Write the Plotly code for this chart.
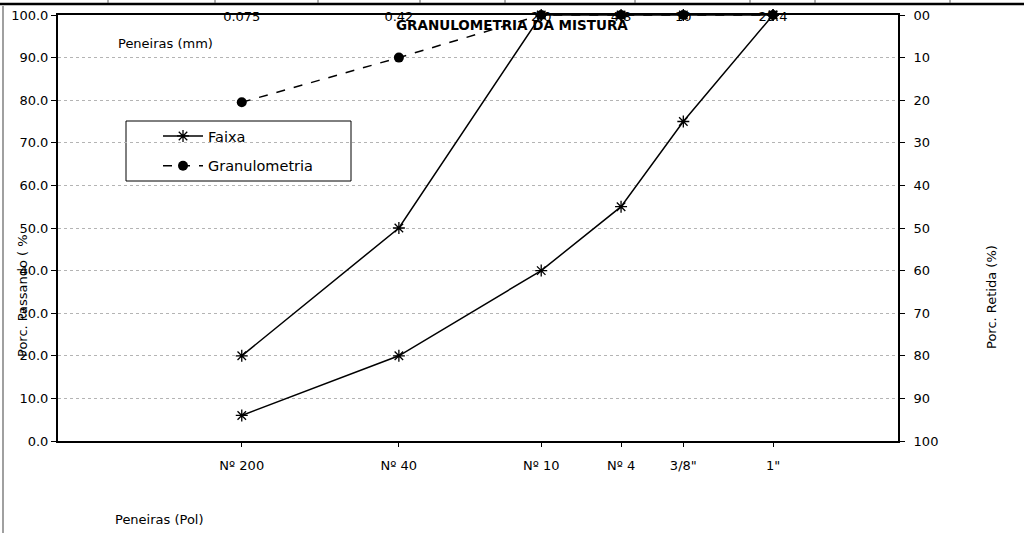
import plotly.graph_objects as go

# Data
sieve_mm = [0.075, 0.42, 2.0, 4.8, 9.5, 25.4]
sieve_pol = ["Nº 200", "Nº 40", "Nº 10", "Nº 4", "3/8\"", "1\""]
sieve_mm_labels = ["0.075", "0.42", "2.0", "4.8", "10", "25.4"]
faixa_sup = [20, 50, 100, 100, 100, 100]
faixa_inf = [6, 20, 40, 55, 75, 100]
granulometria = [79.5, 90, 100, 100, 100, 100]
y_left_ticks = [0, 10, 20, 30, 40, 50, 60, 70, 80, 90, 100]
y_right_labels = ["00", "10", "20", "30", "40", "50", "60", "70", "80", "90", "100"]

FONT = "DejaVu Sans"
FS = 13
W, H = 1024, 533
L, R, T, B = 58, 898, 15, 441

def px(x):
    return (x - L) / (R - L)

def py(y):
    return (B - y) / (B - T)

fig = go.Figure()

fig.add_trace(go.Scatter(
    x=sieve_mm, y=faixa_sup, mode="lines+markers", name="Faixa",
    line=dict(color="black", width=1.5),
    marker=dict(symbol="asterisk-open", size=10, color="black", line=dict(width=1.3, color="black")),
    legendgroup="a", cliponaxis=False,
))
fig.add_trace(go.Scatter(
    x=sieve_mm, y=faixa_inf, mode="lines+markers", name="Faixa", showlegend=False,
    line=dict(color="black", width=1.5),
    marker=dict(symbol="asterisk-open", size=10, color="black", line=dict(width=1.3, color="black")),
    legendgroup="a", cliponaxis=False,
))
fig.add_trace(go.Scatter(
    x=sieve_mm, y=granulometria, mode="lines+markers", name="Granulometria",
    line=dict(color="black", width=1.5, dash="dash"),
    marker=dict(symbol="circle", size=10, color="black"),
    legendgroup="b", cliponaxis=False,
))
# invisible trace to activate the secondary axes
fig.add_trace(go.Scatter(x=sieve_mm, y=[None] * len(sieve_mm), xaxis="x2", yaxis="y2",
                         showlegend=False, hoverinfo="skip", mode="lines"))

fig.update_layout(
    template="none",
    width=W, height=H,
    margin=dict(l=L, r=W - R, t=T, b=H - B, pad=0, autoexpand=False),
    paper_bgcolor="white", plot_bgcolor="white",
    font=dict(family=FONT, size=FS, color="black"),
    showlegend=True,
    legend=dict(
        x=px(158), y=py(120), xanchor="left", yanchor="top",
        bgcolor="rgba(0,0,0,0)", borderwidth=0,
        font=dict(family=FONT, size=14.5, color="black"),
        tracegroupgap=8, traceorder="grouped", itemwidth=40,
    ),
    xaxis=dict(
        type="log", range=[-2, 2], tickvals=sieve_mm, ticktext=sieve_pol,
        showgrid=False, zeroline=False, automargin=False,
        showline=True, linecolor="black", linewidth=2, mirror=True,
        ticks="outside", ticklen=4, tickcolor="black", tickwidth=1,
        ticklabelstandoff=7,
        tickfont=dict(family=FONT, size=FS, color="black"),
    ),
    xaxis2=dict(
        type="log", range=[-2, 2], overlaying="x", side="top",
        anchor="free", position=py(24), automargin=False,
        tickvals=sieve_mm, ticktext=sieve_mm_labels,
        ticks="", ticklen=0, showgrid=False, zeroline=False,
        showline=False, ticklabelstandoff=0,
        tickfont=dict(family=FONT, size=FS, color="black"),
    ),
    yaxis=dict(
        range=[0, 100], tickvals=y_left_ticks, tickformat=".1f", automargin=False,
        showgrid=True, gridcolor="#b4b4b4", griddash="dot", gridwidth=1,
        zeroline=False, showline=True, linecolor="black", linewidth=2,
        ticks="outside", ticklen=5, tickcolor="black",
        tickfont=dict(family=FONT, size=FS, color="black"),
    ),
    yaxis2=dict(
        range=[100.0001, -0.0001], overlaying="y", side="right", anchor="x", automargin=False,
        tickvals=y_left_ticks, ticktext=y_right_labels,
        showgrid=False, zeroline=False, showline=True, linecolor="black", linewidth=2,
        ticks="outside", ticklen=5, tickcolor="black", ticklabelstandoff=6,
        tickfont=dict(family=FONT, size=FS, color="black"),
    ),
)

shapes = [
    # legend box
    dict(type="rect", xref="paper", yref="paper", x0=px(126), x1=px(351), y0=py(181), y1=py(121),
         line=dict(color="black", width=1), fillcolor="white", layer="below"),
    # outer frame: top bar and left border
    dict(type="line", xref="paper", yref="paper", x0=px(0), x1=px(1024), y0=py(4), y1=py(4),
         line=dict(color="black", width=2.5)),
    dict(type="line", xref="paper", yref="paper", x0=px(3), x1=px(3), y0=py(6), y1=py(533),
         line=dict(color="#808080", width=1.5)),
]
for sx in [108, 215, 318, 420, 505, 635, 750, 815, 950]:
    shapes.append(dict(type="line", xref="paper", yref="paper", x0=px(sx), x1=px(sx), y0=py(0), y1=py(3),
                       line=dict(color="#606060", width=1)))
fig.update_layout(shapes=shapes)

annotations = [
    dict(text="<b>GRANULOMETRIA DA MISTURA</b>", xref="paper", yref="paper", x=px(512), y=py(25),
         xanchor="center", yanchor="middle", showarrow=False, font=dict(family=FONT, size=13.5, color="black")),
    dict(text="Peneiras (mm)", xref="paper", yref="paper", x=px(116), y=py(44),
         xanchor="left", yanchor="middle", showarrow=False, font=dict(family=FONT, size=FS, color="black")),
    dict(text="Peneiras (Pol)", xref="paper", yref="paper", x=px(113), y=py(519),
         xanchor="left", yanchor="middle", showarrow=False, font=dict(family=FONT, size=FS, color="black")),
    dict(text="Porc. Passando ( %", xref="paper", yref="paper", x=px(22), y=py(296), textangle=-90,
         xanchor="center", yanchor="middle", showarrow=False, font=dict(family=FONT, size=FS, color="black")),
    dict(text="Porc. Retida (%)", xref="paper", yref="paper", x=px(991), y=py(297), textangle=-90,
         xanchor="center", yanchor="middle", showarrow=False, font=dict(family=FONT, size=FS, color="black")),
]
fig.update_layout(annotations=annotations)

fig.write_html("out.html", config={"displayModeBar": False},
               post_script="document.body.style.margin='0';document.body.style.overflow='hidden';")
